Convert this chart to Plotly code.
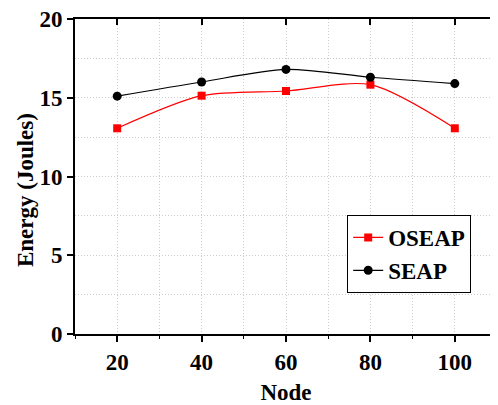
import plotly.graph_objects as go

nodes = [20, 40, 60, 80, 100]
oseap = [13.06, 15.13, 15.43, 15.83, 13.06]
seap = [15.1, 16.0, 16.8, 16.3, 15.9]
x_ticks = [20, 40, 60, 80, 100]
y_ticks = [0, 5, 10, 15, 20]

FONT = "Liberation Serif"

fig = go.Figure()
fig.add_trace(go.Scatter(
    x=nodes, y=oseap, name="OSEAP", mode="lines+markers",
    line=dict(color="#ff0000", width=1.2, shape="spline", smoothing=0.8),
    marker=dict(symbol="square", size=8, color="#ff0000"),
))
fig.add_trace(go.Scatter(
    x=nodes, y=seap, name="SEAP", mode="lines+markers",
    line=dict(color="#000000", width=1.2, shape="spline", smoothing=0.8),
    marker=dict(symbol="circle", size=9, color="#000000"),
))
# invisible trace to anchor mirror axes
fig.add_trace(go.Scatter(x=[nodes[0]], y=[seap[0]], xaxis="x2", yaxis="y2",
                         mode="markers", marker=dict(opacity=0), showlegend=False,
                         hoverinfo="skip"))

grid = dict(showgrid=True, griddash="1px,2px", gridcolor="#cccccc", gridwidth=1)

fig.update_layout(
    width=490, height=397,
    margin=dict(l=67, r=1, t=11, b=71, autoexpand=False),
    paper_bgcolor="white", plot_bgcolor="white",
    font=dict(family=FONT, color="black"),
    showlegend=True,
    legend=dict(x=0.645, y=0.378, xanchor="left", yanchor="top",
                bordercolor="black", borderwidth=1, bgcolor="white",
                font=dict(family=FONT, size=23, color="black", weight="bold"),
                itemwidth=30, tracegroupgap=0),
    xaxis=dict(range=[10, 110], tickvals=x_ticks, ticktext=[str(v) for v in x_ticks],
               showgrid=False, zeroline=False, automargin=False, ticklabeloverflow="allow",
               showline=True, linecolor="black", linewidth=2,
               ticks="outside", ticklen=6, tickwidth=1.5, tickcolor="black",
               tickfont=dict(family=FONT, size=23, weight="bold"),
               title=dict(text="Node", font=dict(family=FONT, size=23, weight="bold"), standoff=14),
               minor=dict(dtick=10, tick0=10, ticks="outside", ticklen=3, tickwidth=1, tickcolor="black", **grid)),
    yaxis=dict(range=[0, 20], tickvals=y_ticks, ticktext=[str(v) for v in y_ticks],
               showgrid=False, zeroline=False, automargin=False, ticklabeloverflow="allow",
               showline=True, linecolor="black", linewidth=2,
               ticks="outside", ticklen=6, tickwidth=1.5, tickcolor="black",
               tickfont=dict(family=FONT, size=23, weight="bold"),
               minor=dict(dtick=2.5, tick0=0, ticks="", **grid)),
    xaxis2=dict(overlaying="x", side="top", matches="x", range=[10, 110], tickvals=x_ticks,
                showticklabels=False, showgrid=False, zeroline=False, automargin=False,
                showline=True, linecolor="black", linewidth=2,
                ticks="inside", ticklen=6, tickwidth=1.5, tickcolor="black", anchor="y2"),
    yaxis2=dict(overlaying="y", side="right", matches="y", range=[0, 20], tickvals=y_ticks,
                showticklabels=False, showgrid=False, zeroline=False, automargin=False,
                showline=True, linecolor="black", linewidth=2,
                ticks="inside", ticklen=6, tickwidth=1.5, tickcolor="black", anchor="x2",
                minor=dict(dtick=2.5, tick0=0, ticks="inside", ticklen=4, tickcolor="black", showgrid=False)),
    annotations=[dict(text="Energy (Joules)", textangle=-90, xref="paper", yref="paper",
                      x=0, y=0.457, xanchor="center", yanchor="middle", xshift=-50,
                      showarrow=False, font=dict(family=FONT, size=23, weight="bold", color="black"))],
)

fig.write_html("out.html")
